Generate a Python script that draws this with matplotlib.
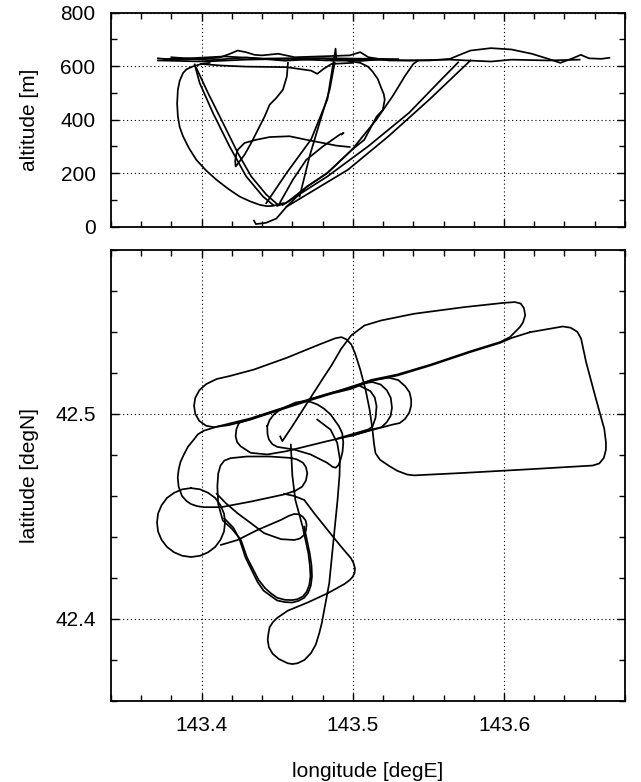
import matplotlib.pyplot as plt
from matplotlib.ticker import MultipleLocator

plt.rcParams['font.family'] = ['Liberation Sans', 'DejaVu Sans']

# ---- altitude profile (lon [degE], altitude [m]) ----
alt_level_a = [(143.3711, 629), (143.3805, 624), (143.4020, 627), (143.4120, 632), (143.4184, 645),
               (143.4238, 658), (143.4292, 652), (143.4350, 642), (143.4400, 640), (143.4508, 646),
               (143.4616, 633), (143.4832, 637), (143.4980, 640), (143.5049, 652), (143.5103, 633),
               (143.5238, 621), (143.5508, 621), (143.5643, 627), (143.5720, 645), (143.5778, 658),
               (143.5914, 667), (143.6049, 662), (143.6184, 646), (143.6292, 627), (143.6373, 612),
               (143.6454, 629), (143.6508, 642), (143.6562, 629), (143.6643, 627), (143.6697, 631)]
alt_level_b = [(143.3711, 621), (143.4020, 617), (143.4292, 624), (143.4562, 627), (143.4832, 621),
               (143.5103, 624), (143.5373, 621), (143.5643, 624), (143.5914, 617), (143.6049, 624),
               (143.6292, 621), (143.6500, 624)]
alt_level_c = [(143.3995, 608), (143.4130, 602), (143.4292, 598), (143.4562, 596), (143.4724, 583),
               (143.4765, 571), (143.4805, 589), (143.4859, 608), (143.5000, 612)]
alt_level_d = [(143.3750, 626), (143.3950, 630), (143.4150, 636), (143.4400, 628), (143.4700, 630),
               (143.5000, 628), (143.5300, 626)]
alt_level_e = [(143.3800, 633), (143.4050, 622), (143.4300, 632), (143.4550, 620), (143.4800, 628),
               (143.5050, 619), (143.5200, 626)]
alt_loop_out = [(143.4053, 612), (143.4000, 608), (143.3943, 599), (143.3900, 588), (143.3877, 574),
                (143.3855, 545), (143.3843, 512), (143.3838, 460), (143.3843, 412), (143.3855, 372),
                (143.3877, 338), (143.3915, 295), (143.3965, 250), (143.4030, 210), (143.4097, 176),
                (143.4175, 142), (143.4251, 113), (143.4320, 95), (143.4384, 82), (143.4430, 77),
                (143.4472, 78), (143.4538, 88)]
alt_dive_a = [(143.3954, 606), (143.3987, 537), (143.4075, 425), (143.4185, 300), (143.4295, 188),
              (143.4406, 113), (143.4472, 82)]
alt_dive_b = [(143.3965, 593), (143.4042, 500), (143.4141, 388), (143.4240, 275), (143.4328, 188),
              (143.4428, 120), (143.4505, 82)]
alt_dive_c = [(143.4571, 612), (143.4564, 562), (143.4538, 512), (143.4494, 481), (143.4450, 456),
              (143.4417, 412), (143.4373, 363), (143.4328, 313), (143.4284, 269), (143.4251, 244),
              (143.4225, 225), (143.4222, 245), (143.4229, 270), (143.4240, 288), (143.4284, 313),
              (143.4362, 325), (143.4450, 335), (143.4582, 338), (143.4692, 325), (143.4802, 313),
              (143.4891, 303), (143.4979, 298)]
alt_climb_a = [(143.4346, 23), (143.4359, 10), (143.4427, 15), (143.4495, 31), (143.4562, 75),
               (143.4697, 150), (143.4832, 201), (143.4995, 288), (143.5157, 401), (143.5265, 489),
               (143.5346, 564), (143.5400, 608), (143.5430, 620)]
alt_climb_b = [(143.4535, 81), (143.4832, 188), (143.5103, 301), (143.5373, 426), (143.5589, 552),
               (143.5697, 614)]
alt_climb_c = [(143.4562, 75), (143.4968, 213), (143.5238, 339), (143.5508, 476), (143.5778, 621)]
alt_loop_right = [(143.4859, 621), (143.4960, 620), (143.5049, 612), (143.5100, 598), (143.5130, 580),
                  (143.5165, 552), (143.5184, 524), (143.5205, 495), (143.5211, 474), (143.5198, 436),
                  (143.5157, 411), (143.5076, 325), (143.4995, 288), (143.4832, 201), (143.4697, 150),
                  (143.4562, 90), (143.4500, 78)]
alt_steep_a = [(143.4427, 88), (143.4562, 201), (143.4724, 326), (143.4832, 476), (143.4886, 665),
               (143.4890, 630)]
alt_steep_b = [(143.4648, 113), (143.4714, 263), (143.4780, 388), (143.4847, 512), (143.4880, 612)]
alt_hook = [(143.4516, 88), (143.4604, 176), (143.4692, 250), (143.4802, 300), (143.4913, 344),
            (143.4939, 350), (143.4925, 345)]

# ---- ground track (lon [degE], lat [degN]) ----
trk_circuit = [(143.6171, 42.5398), (143.6050, 42.5370), (143.5974, 42.5346), (143.5777, 42.5301),
               (143.5514, 42.5236), (143.5295, 42.5187), (143.5120, 42.5160), (143.4989, 42.5122),
               (143.4858, 42.5098), (143.4699, 42.5062), (143.4500, 42.5015), (143.4324, 42.4972),
               (143.4180, 42.4945), (143.4080, 42.4935), (143.4030, 42.4942), (143.3985, 42.4965),
               (143.3958, 42.5000), (143.3950, 42.5040), (143.3958, 42.5078), (143.3985, 42.5115),
               (143.4030, 42.5145), (143.4100, 42.5170), (143.4184, 42.5184), (143.4346, 42.5216),
               (143.4562, 42.5273), (143.4778, 42.5338), (143.4886, 42.5369), (143.4925, 42.5374),
               (143.4960, 42.5362), (143.4990, 42.5338), (143.5015, 42.5295), (143.5049, 42.5216),
               (143.5084, 42.5119), (143.5111, 42.5021), (143.5130, 42.4924), (143.5140, 42.4855),
               (143.5150, 42.4808), (143.5180, 42.4776), (143.5240, 42.4746), (143.5295, 42.4722),
               (143.5360, 42.4704), (143.5405, 42.4700), (143.5733, 42.4712), (143.6171, 42.4730),
               (143.6586, 42.4748), (143.6630, 42.4758), (143.6660, 42.4785), (143.6674, 42.4825),
               (143.6674, 42.4862), (143.6663, 42.4927), (143.6608, 42.5073), (143.6543, 42.5252),
               (143.6510, 42.5366), (143.6485, 42.5400), (143.6440, 42.5420), (143.6389, 42.5426),
               (143.6171, 42.5398)]
trk_north = [(143.4520, 42.4890), (143.4534, 42.4867), (143.4600, 42.4940), (143.4699, 42.5054),
             (143.4800, 42.5170), (143.4858, 42.5235), (143.4923, 42.5317), (143.4989, 42.5382),
             (143.5077, 42.5431), (143.5186, 42.5455), (143.5405, 42.5488), (143.5733, 42.5520),
             (143.5996, 42.5541), (143.6072, 42.5545), (143.6110, 42.5538), (143.6132, 42.5515),
             (143.6140, 42.5480), (143.6125, 42.5445), (143.6105, 42.5423), (143.6039, 42.5374),
             (143.5974, 42.5350), (143.5777, 42.5305), (143.5514, 42.5240), (143.5295, 42.5192),
             (143.5120, 42.5165), (143.4989, 42.5127), (143.4858, 42.5103), (143.4699, 42.5068),
             (143.4500, 42.5020), (143.4324, 42.4978), (143.4104, 42.4938), (143.4015, 42.4918),
             (143.3975, 42.4900), (143.3949, 42.4875), (143.3910, 42.4840), (143.3883, 42.4802),
             (143.3860, 42.4765), (143.3848, 42.4728), (143.3842, 42.4690), (143.3848, 42.4645),
             (143.3870, 42.4600), (143.3900, 42.4575), (143.3930, 42.4560), (143.3970, 42.4550),
             (143.4015, 42.4545), (143.4130, 42.4545), (143.4324, 42.4572), (143.4545, 42.4607),
             (143.4620, 42.4625), (143.4665, 42.4645), (143.4690, 42.4675), (143.4699, 42.4710),
             (143.4690, 42.4740), (143.4670, 42.4762), (143.4630, 42.4778), (143.4590, 42.4785),
             (143.4450, 42.4792), (143.4300, 42.4792), (143.4192, 42.4784), (143.4150, 42.4772),
             (143.4125, 42.4748), (143.4110, 42.4710), (143.4104, 42.4645), (143.4110, 42.4560),
             (143.4140, 42.4480), (143.4200, 42.4440), (143.4260, 42.4385), (143.4300, 42.4300),
             (143.4377, 42.4190), (143.4420, 42.4150), (143.4458, 42.4125), (143.4500, 42.4103),
             (143.4553, 42.4093), (143.4600, 42.4092), (143.4633, 42.4096), (143.4670, 42.4110),
             (143.4695, 42.4133), (143.4712, 42.4165), (143.4720, 42.4207), (143.4716, 42.4260),
             (143.4706, 42.4320), (143.4668, 42.4450), (143.4620, 42.4580), (143.4600, 42.4700),
             (143.4590, 42.4850)]
trk_south2 = [(143.4150, 42.4490), (143.4210, 42.4445), (143.4250, 42.4390), (143.4290, 42.4300),
              (143.4370, 42.4180), (143.4410, 42.4138), (143.4458, 42.4112), (143.4500, 42.4090),
              (143.4553, 42.4082), (143.4600, 42.4080), (143.4640, 42.4088), (143.4678, 42.4103),
              (143.4705, 42.4128), (143.4722, 42.4162), (143.4730, 42.4207), (143.4727, 42.4260),
              (143.4715, 42.4320), (143.4678, 42.4450)]
trk_race_a = [(143.4247, 42.4956), (143.4230, 42.4925), (143.4225, 42.4891), (143.4235, 42.4862),
              (143.4258, 42.4842), (143.4324, 42.4810), (143.4434, 42.4802), (143.4562, 42.4818),
              (143.4832, 42.4867), (143.4995, 42.4894), (143.5130, 42.4922), (143.5265, 42.4948),
              (143.5310, 42.4955), (143.5345, 42.4975), (143.5373, 42.5005), (143.5386, 42.5040),
              (143.5386, 42.5070), (143.5375, 42.5105), (143.5346, 42.5135), (143.5300, 42.5165),
              (143.5238, 42.5176), (143.5170, 42.5170), (143.5103, 42.5159), (143.4858, 42.5101),
              (143.4700, 42.5066), (143.4500, 42.5018), (143.4247, 42.4956)]
trk_race_b = [(143.4995, 42.4894), (143.5130, 42.4924), (143.5190, 42.4935), (143.5224, 42.4959),
              (143.5250, 42.4990), (143.5259, 42.5030), (143.5251, 42.5078), (143.5225, 42.5115),
              (143.5184, 42.5143), (143.5130, 42.5155), (143.5080, 42.5150)]
trk_race_c = [(143.4900, 42.4880), (143.5103, 42.4924), (143.5130, 42.4938), (143.5150, 42.4980),
              (143.5157, 42.5037), (143.5145, 42.5080), (143.5116, 42.5111), (143.5050, 42.5135)]
trk_oval = [(143.4434, 42.4940), (143.4436, 42.4900), (143.4445, 42.4875), (143.4468, 42.4852),
            (143.4500, 42.4839), (143.4611, 42.4826), (143.4721, 42.4802), (143.4831, 42.4761),
            (143.4865, 42.4742), (143.4886, 42.4737), (143.4905, 42.4750), (143.4919, 42.4777),
            (143.4932, 42.4815), (143.4937, 42.4859), (143.4930, 42.4905), (143.4908, 42.4940),
            (143.4853, 42.4997), (143.4810, 42.5025), (143.4765, 42.5046), (143.4720, 42.5058),
            (143.4677, 42.5062), (143.4620, 42.5055), (143.4567, 42.5037), (143.4510, 42.5015),
            (143.4478, 42.4997), (143.4450, 42.4970), (143.4434, 42.4940)]
trk_drop = [(143.4765, 42.4972), (143.4853, 42.4923), (143.4897, 42.4858), (143.4915, 42.4777),
            (143.4912, 42.4700), (143.4899, 42.4580), (143.4888, 42.4499), (143.4866, 42.4337),
            (143.4844, 42.4174), (143.4811, 42.4044), (143.4795, 42.3980), (143.4778, 42.3930),
            (143.4755, 42.3875), (143.4723, 42.3833), (143.4680, 42.3800), (143.4635, 42.3784),
            (143.4600, 42.3780), (143.4569, 42.3784), (143.4510, 42.3805), (143.4470, 42.3830),
            (143.4445, 42.3862), (143.4437, 42.3898), (143.4442, 42.3930), (143.4450, 42.3960),
            (143.4472, 42.3985), (143.4500, 42.4005), (143.4569, 42.4040), (143.4701, 42.4080),
            (143.4833, 42.4125), (143.4944, 42.4170), (143.4980, 42.4190), (143.4999, 42.4205),
            (143.5012, 42.4225), (143.5014, 42.4247), (143.5005, 42.4272), (143.4988, 42.4296),
            (143.4922, 42.4353), (143.4833, 42.4434), (143.4745, 42.4515), (143.4679, 42.4580),
            (143.4610, 42.4600), (143.4545, 42.4610)]
trk_circle = [(143.3930, 42.4638), (143.3990, 42.4632), (143.4043, 42.4615), (143.4090, 42.4590),
              (143.4125, 42.4554), (143.4148, 42.4514), (143.4155, 42.4470), (143.4148, 42.4426),
              (143.4125, 42.4386), (143.4090, 42.4351), (143.4043, 42.4325), (143.3990, 42.4308),
              (143.3930, 42.4302), (143.3872, 42.4308), (143.3818, 42.4325), (143.3771, 42.4351),
              (143.3735, 42.4386), (143.3712, 42.4426), (143.3705, 42.4470), (143.3712, 42.4514),
              (143.3735, 42.4554), (143.3771, 42.4590), (143.3818, 42.4615), (143.3872, 42.4632),
              (143.3930, 42.4638)]
trk_tilt = [(143.4128, 42.4361), (143.4238, 42.4385), (143.4370, 42.4434), (143.4525, 42.4483),
            (143.4575, 42.4502), (143.4613, 42.4512), (143.4645, 42.4510), (143.4668, 42.4499),
            (143.4688, 42.4480), (143.4694, 42.4459), (143.4690, 42.4432), (143.4679, 42.4410),
            (143.4650, 42.4392), (143.4613, 42.4385), (143.4525, 42.4389), (143.4414, 42.4418),
            (143.4326, 42.4467), (143.4238, 42.4515), (143.4161, 42.4564), (143.4100, 42.4610)]

alt_segs = [alt_level_a, alt_level_b, alt_level_c, alt_level_d, alt_level_e, alt_loop_out,
            alt_dive_a, alt_dive_b, alt_dive_c, alt_climb_a, alt_climb_b, alt_climb_c,
            alt_loop_right, alt_steep_a, alt_steep_b, alt_hook]
trk_segs = [trk_circuit, trk_north, trk_south2, trk_race_a, trk_race_b, trk_race_c, trk_oval,
            trk_drop, trk_circle, trk_tilt]

fig = plt.figure(figsize=(6.41, 7.82), dpi=100)
ax1 = fig.add_axes([0.173, 0.710, 0.802, 0.274])
ax2 = fig.add_axes([0.173, 0.1036, 0.802, 0.577])

for seg in alt_segs:
    x, y = zip(*seg)
    ax1.plot(x, y, color='k', lw=1.25, solid_joinstyle='round')
for seg in trk_segs:
    x, y = zip(*seg)
    ax2.plot(x, y, color='k', lw=1.25, solid_joinstyle='round')

for ax in (ax1, ax2):
    ax.set_xlim(143.34, 143.68)
    ax.xaxis.set_major_locator(MultipleLocator(0.1))
    ax.xaxis.set_minor_locator(MultipleLocator(0.02))
    ax.tick_params(which='both', direction='in', top=True, right=True, labelsize=15, pad=11)
    ax.tick_params(which='major', length=6, width=1.0)
    ax.tick_params(which='minor', length=4, width=1.0)
    ax.grid(True, which='major', color='k', lw=0.8, ls=(0, (1, 2.5)))
    for s in ax.spines.values():
        s.set_linewidth(1.3)

ax1.set_ylim(0, 800)
ax1.yaxis.set_major_locator(MultipleLocator(200))
ax1.yaxis.set_minor_locator(MultipleLocator(100))
ax1.tick_params(labelbottom=False)
ax1.set_ylabel('altitude [m]', fontsize=15)
ax1.yaxis.set_label_coords(-0.14, 0.5)

ax2.set_ylim(42.36, 42.58)
ax2.yaxis.set_major_locator(MultipleLocator(0.1))
ax2.yaxis.set_minor_locator(MultipleLocator(0.02))
ax2.set_yticks([42.4, 42.5])
ax2.set_yticklabels(['42.4', '42.5'])
ax2.set_xticks([143.4, 143.5, 143.6])
ax2.set_xticklabels(['143.4', '143.5', '143.6'])
ax2.set_ylabel('latitude [degN]', fontsize=15)
ax2.yaxis.set_label_coords(-0.14, 0.5)
ax2.set_xlabel('longitude [degE]', fontsize=15)
ax2.xaxis.set_label_coords(0.5, -0.135)

fig.savefig('out.png', dpi=100)
